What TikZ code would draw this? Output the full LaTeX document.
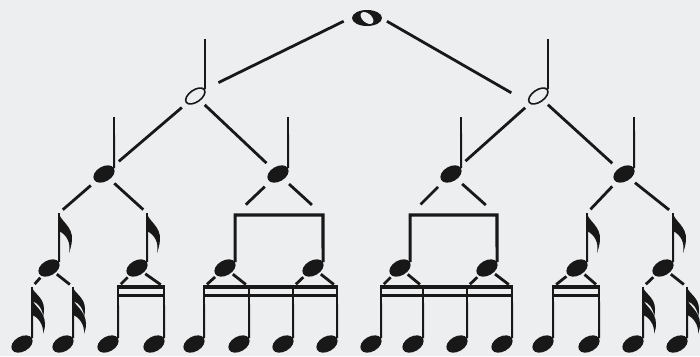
\documentclass[tikz,border=0pt]{standalone}
\usepackage{tikz}
\usetikzlibrary{shapes,calc,positioning}

\definecolor{paper}{RGB}{237,238,240}
\definecolor{ink}{RGB}{24,24,24}

\tikzset{
    head/.style={ellipse, fill=ink, inner sep=0pt, minimum width=23pt, minimum height=15pt, rotate=30},
    open/.style={ellipse, draw=ink, line width=1.6pt, inner sep=0pt, minimum width=22pt, minimum height=12pt, rotate=35},
    whole/.style={ellipse, fill=ink, inner sep=0pt, minimum width=30pt, minimum height=16pt},
    hole/.style={ellipse, fill=paper, inner sep=0pt, minimum width=15pt, minimum height=9pt, rotate=-40},
    stem/.style={draw=ink, line width=1.9pt},
    link/.style={draw=ink, line width=2.8pt},
    beam/.style={draw=ink, line width=4pt},
    beamtwo/.style={draw=ink, line width=2.4pt},
    bracket/.style={draw=ink, line width=3.2pt, line join=miter},
    flagone/.pic={\fill[ink] (0,0) .. controls (1,8) and (14,13) .. (13,27) .. controls (12.5,33) and (11,37) .. (10,40) .. controls (12,30) and (8,22) .. (0,18) -- cycle;},
    flagtwo/.pic={
        \fill[ink] (0,0) .. controls (1,6) and (12,10) .. (12,22) .. controls (12,26) and (11.5,28) .. (11,30) .. controls (11,22) and (6,16) .. (0,14) -- cycle;
        \fill[ink] (0,12) .. controls (1,18) and (13,24) .. (13,37) .. controls (13,41) and (12,44) .. (11,47) .. controls (12,38) and (6,30) .. (0,28) -- cycle;},
}

\begin{document}
\begin{tikzpicture}[x=1pt, y=-1pt]
    \fill[paper] (0,0) rectangle (700,356);
    \useasboundingbox (0,0) rectangle (700,356);

    % Whole note
    \node[whole] (W) at (367,18) {};
    \node[hole] (Wi) at (W) {};

    % Half notes
    \foreach \n/\x in {H1/205, H2/548} {
        \node[open] (\n) at (\x-9.7,96) {};
        \coordinate (t\n) at (\x,39);
        \draw[stem] (\n.east) -- (t\n);
    }

    % Quarter notes
    \foreach \n/\x in {q1/114, q2/288, q3/461, q4/634} {
        \node[head] (\n) at (\x-10,174) {};
        \coordinate (t\n) at (\x,117);
        \draw[stem] (\n.east) -- (t\n);
    }

    % Eighth notes, flagged
    \foreach \n/\x in {e1/59, e2/147, e7/587, e8/673} {
        \node[head] (\n) at (\x-10,268) {};
        \coordinate (t\n) at (\x,213);
        \draw[stem] (\n.east) -- (t\n);
        \pic at (t\n) {flagone};
    }

    % Eighth notes, beamed
    \foreach \n/\x in {e3/235, e4/323, e5/410, e6/497} {
        \node[head] (\n) at (\x-10,268) {};
        \coordinate (t\n) at (\x,215);
    }
    \foreach \a/\b in {e3/e4, e5/e6}
        \draw[bracket] (\a.east) |- (t\b) -- (\b.east);

    % Sixteenth notes
    \foreach \n/\x in {s1/32, s2/73, s3/118, s4/164, s5/204, s6/249, s7/293, s8/337,
                       s9/381, s10/423, s11/467, s12/512, s13/553, s14/599, s15/643, s16/687} {
        \node[head] (\n) at (\x-10,344) {};
        \coordinate (t\n) at (\x,287);
        \draw[stem] (\n.east) -- (t\n);
    }
    \foreach \n in {s1, s2, s15, s16}
        \pic at (t\n) {flagtwo};
    \foreach \a/\b in {s3/s4, s5/s8, s9/s12, s13/s14} {
        \draw[beam] ([xshift=-1pt]t\a) -- ([xshift=1pt]t\b);
        \draw[beamtwo] ([shift={(-1pt,-8.5pt)}]t\a) -- ([shift={(1pt,-8.5pt)}]t\b);
    }

    % Connectors
    \draw[link, shorten <=26pt, shorten >=15pt] (W.north) -- (H1.east);
    \draw[link, shorten <=23pt, shorten >=20pt] (W.north) -- (H2.west);
    \foreach \a/\b in {H1/q1, H1/q2, H2/q3, H2/q4}
        \draw[link, shorten <=6pt, shorten >=8pt] (\a) -- (\b);
    \foreach \a/\b in {q1/e1, q1/e2, q4/e7, q4/e8}
        \draw[link, shorten <=6pt, shorten >=5pt] (\a) -- (t\b);
    \foreach \a/\b in {q2/e3, q2/e4, q3/e5, q3/e6}
        \draw[link, shorten <=7pt, shorten >=15pt] (\a) -- (t\b);
    \foreach \a/\b in {e1/s1, e1/s2, e2/s3, e2/s4, e3/s5, e3/s6, e4/s7, e4/s8,
                       e5/s9, e5/s10, e6/s11, e6/s12, e7/s13, e7/s14, e8/s15, e8/s16}
        \draw[link, shorten <=2pt, shorten >=4pt] (\a) -- (t\b);
\end{tikzpicture}
\end{document}
